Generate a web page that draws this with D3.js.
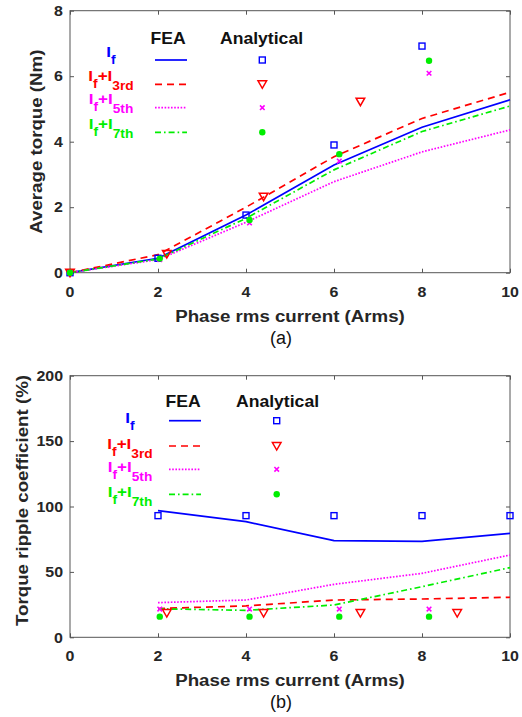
<!DOCTYPE html>
<html><head><meta charset="utf-8">
<script src="https://cdn.jsdelivr.net/npm/d3@7"></script>
<style>
html,body{margin:0;padding:0;background:#fff;}
text{font-family:"Liberation Sans",Arial,sans-serif;}
</style></head>
<body>
<svg id="chart" width="522" height="717"></svg>
<script>
// ---------- data ----------
const xTicks = [0,2,4,6,8,10];
const torqueTicks = [0,2,4,6,8];
const rippleTicks = [0,50,100,150,200];

// (a) Average torque, FEA
const xTorqueFEA = [0,2,4,6,8,10];
const torqueFEA_f   = [0,0.44,1.76,3.29,4.44,5.28];
const torqueFEA_3rd = [0,0.55,2.00,3.54,4.71,5.51];
const torqueFEA_5th = [0,0.40,1.54,2.78,3.69,4.36];
const torqueFEA_7th = [0,0.42,1.66,3.14,4.31,5.09];
// (a) Average torque, analytical
const xTorqueAn_f   = [0,2,4,6,8];
const torqueAn_f    = [0,0.44,1.76,3.90,6.92];
const xTorqueAn_3rd = [0,2.2,4.4,6.6];
const torqueAn_3rd  = [0,0.57,2.32,5.22];
const xTorqueAn_5th = [0,2.04,4.08,6.12,8.16];
const torqueAn_5th  = [0,0.40,1.52,3.41,6.09];
const xTorqueAn_7th = [0,2.04,4.08,6.12,8.16];
const torqueAn_7th  = [0,0.43,1.61,3.62,6.47];

// (b) Torque ripple coefficient, FEA
const xRippleFEA = [2,4,6,8,10];
const rippleFEA_f   = [96.8,88.4,73.9,73.4,79.5];
const rippleFEA_3rd = [22.0,24.0,28.5,29.3,30.6];
const rippleFEA_5th = [26.5,28.5,40.5,48.9,62.9];
const rippleFEA_7th = [21.8,20.6,24.7,38.7,53.3];
// (b) analytical
const xRippleAn_f   = [2,4,6,8,10];
const rippleAn_f    = [93,93,93,93,93];
const xRippleAn_3rd = [2.2,4.4,6.6,8.8];
const rippleAn_3rd  = [18.5,18.5,18.5,18.5];
const xRippleAn_5th = [2.04,4.08,6.12,8.16];
const rippleAn_5th  = [21.6,21.6,21.6,21.6];
const xRippleAn_7th = [2.04,4.08,6.12,8.16];
const rippleAn_7th  = [15.8,15.8,15.8,15.8];

const seriesNames = ["f","3rd","5th","7th"];
const subLabels = ["f","3rd","5th","7th"];
const colors = {f:"#0000ff","3rd":"#ff0000","5th":"#ff00ff","7th":"#00ee00"};
const dashes = {f:null,"3rd":"7,5","5th":"1.6,1.6","7th":"6,3,1.6,3"};
const markerType = {f:"square","3rd":"triangle","5th":"cross","7th":"circle"};

const svg = d3.select("#chart");
const STR = 1.1; // horizontal glyph stretch
const axisColor = "#262626";

function stext(g, x, y, str, size, opts={}) {
  const t = g.append("text")
    .attr("transform", `translate(${x},${y}) ${opts.rotate?'rotate(-90)':''} scale(${STR},1)`)
    .attr("text-anchor", opts.anchor || "middle")
    .attr("font-size", size)
    .attr("font-weight", opts.weight || "bold")
    .attr("fill", opts.fill || axisColor);
  if (opts.dy) t.attr("dy", opts.dy);
  t.text(str);
  return t;
}

function drawMarker(g, type, cx, cy, color) {
  if (type === "square") {
    g.append("rect").attr("x", cx-3).attr("y", cy-3).attr("width",6).attr("height",6)
      .attr("fill","none").attr("stroke",color).attr("stroke-width",1.4);
  } else if (type === "triangle") {
    g.append("path").attr("d", `M${cx-4.3},${cy-3.5}L${cx+4.3},${cy-3.5}L${cx},${cy+4}Z`)
      .attr("fill","none").attr("stroke",color).attr("stroke-width",1.5);
  } else if (type === "cross") {
    g.append("path").attr("d", `M${cx-2.3},${cy-2.3}L${cx+2.3},${cy+2.3}M${cx-2.3},${cy+2.3}L${cx+2.3},${cy-2.3}`)
      .attr("stroke",color).attr("stroke-width",1.6);
  } else {
    g.append("circle").attr("cx",cx).attr("cy",cy).attr("r",3.2).attr("fill",color);
  }
}

function drawChart(cfg) {
  const g = svg.append("g");
  const x = d3.scaleLinear().domain([0,10]).range([70,510]);
  const y = d3.scaleLinear().domain(cfg.yDomain).range([cfg.bottom, cfg.top]);

  // frame
  g.append("rect").attr("x",70).attr("y",cfg.top).attr("width",440).attr("height",cfg.bottom-cfg.top)
    .attr("fill","none").attr("stroke","#555").attr("stroke-width",1);

  // axes with inward ticks
  const xa = g.append("g").attr("transform",`translate(0,${cfg.bottom})`)
    .call(d3.axisBottom(x).tickValues(xTicks).tickSize(-4).tickFormat(""));
  const xt = g.append("g").attr("transform",`translate(0,${cfg.top})`)
    .call(d3.axisTop(x).tickValues(xTicks).tickSize(-4).tickFormat(""));
  const ya = g.append("g").attr("transform",`translate(70,0)`)
    .call(d3.axisLeft(y).tickValues(cfg.yTicks).tickSize(-4).tickFormat(""));
  const yr = g.append("g").attr("transform",`translate(510,0)`)
    .call(d3.axisRight(y).tickValues(cfg.yTicks).tickSize(-4).tickFormat(""));
  [xa,xt,ya,yr].forEach(a => { a.select(".domain").remove(); a.selectAll("line").attr("stroke","#555"); });

  // tick labels
  xTicks.forEach(v => stext(g, x(v), cfg.bottom+24, String(v), 14.5));
  cfg.yTicks.forEach(v => stext(g, 63, y(v), String(v), 14.5, {anchor:"end", dy:"0.36em"}));

  // titles
  stext(g, 290, cfg.bottom+49, "Phase rms current (Arms)", 17);
  stext(g, cfg.yTitleX, (cfg.top+cfg.bottom)/2 + cfg.yTitleShift, cfg.yTitle, 17, {rotate:true});
  g.append("text").attr("x",281).attr("y",cfg.bottom+71).attr("text-anchor","middle")
    .attr("font-family","'Liberation Serif','Times New Roman',serif").attr("font-size",18)
    .attr("fill","#111").text(cfg.caption);

  // FEA lines
  const line = d3.line().x(d=>x(d[0])).y(d=>y(d[1]));
  seriesNames.forEach(s => {
    const pts = cfg.fx.map((xv,i)=>[xv, cfg.fea[s][i]]);
    const p = g.append("path").datum(pts).attr("d",line).attr("fill","none")
      .attr("stroke",colors[s]).attr("stroke-width",1.7);
    if (dashes[s]) p.attr("stroke-dasharray",dashes[s]);
  });
  // analytical markers
  seriesNames.forEach(s => {
    cfg.anX[s].forEach((xv,i) => drawMarker(g, markerType[s], x(xv), y(cfg.an[s][i]), colors[s]));
  });

  // legend
  const L = cfg.legend;
  stext(g, L.feaX, L.headY, "FEA", 16, {fill:"#111"});
  stext(g, L.anX, L.headY, "Analytical", 16, {anchor:"start", fill:"#111"});
  seriesNames.forEach((s,i) => {
    const ry = L.rows[i];
    const lg = g.append("line").attr("x1",L.lineX0).attr("x2",L.lineX1).attr("y1",ry).attr("y2",ry)
      .attr("stroke",colors[s]).attr("stroke-width",1.7);
    if (dashes[s]) lg.attr("stroke-dasharray",dashes[s]);
    drawMarker(g, markerType[s], L.markX, ry, colors[s]);
    const t = g.append("text")
      .attr("transform",`translate(${L.labelX},${ry+L.labelDy}) scale(${STR},1)`)
      .attr("text-anchor","middle").attr("font-weight","bold").attr("fill",colors[s]).attr("font-size",15.5);
    if (s === "f") {
      t.append("tspan").text("I");
      t.append("tspan").attr("font-size",12.5).attr("dy",7).text("f");
    } else {
      t.append("tspan").text("I");
      t.append("tspan").attr("font-size",12.5).attr("dy",7).text("f");
      t.append("tspan").attr("dy",-7).text("+I");
      t.append("tspan").attr("font-size",12.5).attr("dy",9).text(subLabels[i]);
    }
  });
}

drawChart({
  top:10.7, bottom:272.7, yDomain:[0,8], yTicks:torqueTicks,
  yTitle:"Average torque (Nm)", yTitleX:42, yTitleShift:0, caption:"(a)",
  fx:xTorqueFEA,
  fea:{f:torqueFEA_f,"3rd":torqueFEA_3rd,"5th":torqueFEA_5th,"7th":torqueFEA_7th},
  anX:{f:xTorqueAn_f,"3rd":xTorqueAn_3rd,"5th":xTorqueAn_5th,"7th":xTorqueAn_7th},
  an:{f:torqueAn_f,"3rd":torqueAn_3rd,"5th":torqueAn_5th,"7th":torqueAn_7th},
  legend:{feaX:168, anX:220, headY:44, rows:[60,84.3,107.7,132.3], lineX0:155, lineX1:187,
          markX:262.3, labelX:111, labelDy:-3.5}
});

drawChart({
  top:375.7, bottom:637.3, yDomain:[0,200], yTicks:rippleTicks,
  yTitle:"Torque ripple coefficient (%)", yTitleX:28, yTitleShift:-6, caption:"(b)",
  fx:xRippleFEA,
  fea:{f:rippleFEA_f,"3rd":rippleFEA_3rd,"5th":rippleFEA_5th,"7th":rippleFEA_7th},
  anX:{f:xRippleAn_f,"3rd":xRippleAn_3rd,"5th":xRippleAn_5th,"7th":xRippleAn_7th},
  an:{f:rippleAn_f,"3rd":rippleAn_3rd,"5th":rippleAn_5th,"7th":rippleAn_7th},
  legend:{feaX:183, anX:236, headY:406.7, rows:[420.7,446,469.3,494.3], lineX0:169, lineX1:201,
          markX:276.7, labelX:130, labelDy:2.5}
});
</script>
</body></html>
